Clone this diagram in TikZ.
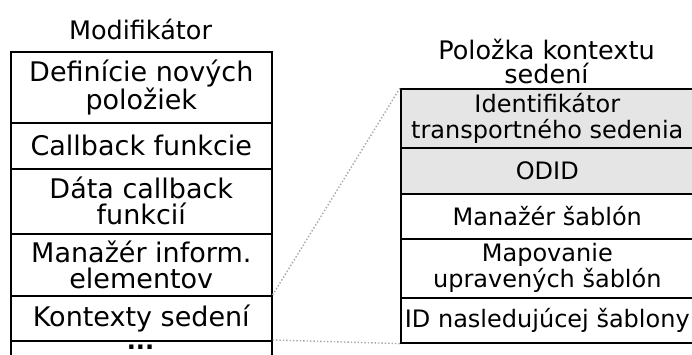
\documentclass[tikz,border=0pt]{standalone}
\usepackage{fontspec}
\setmainfont{DejaVu Sans}
\begin{document}
\begin{tikzpicture}[x=1pt,y=-1pt,
  cell/.style={draw=black,line width=1.6pt,minimum width=#1,inner sep=0pt,align=center},
  lcell/.style={cell=261pt,anchor=north west,font=\fontsize{27}{26}\selectfont},
  rcell/.style={cell=293pt,anchor=north west,font=\fontsize{24}{26}\selectfont},
  shade/.style={fill=black!10},
  title/.style={align=center,font=\fontsize{25.5}{24}\selectfont},
  link/.style={draw=black!35,line width=1.4pt,dotted}]
\useasboundingbox (0,0) rectangle (692,354);
\clip (0,0) rectangle (692,354);
% titles
\node[title] (tl) at (140.5,29) {Modifikátor};
\node[title] (tr) at (546.5,61) {Položka kontextu\\sedení};
% left box
\node[lcell,minimum height=71pt] (l1) at (10,51) {Definície nových\\položiek};
\node[lcell,minimum height=46pt] (l2) at (10,122) {Callback funkcie};
\node[lcell,minimum height=65pt] (l3) at (10,168) {Dáta callback\\funkcií};
\node[lcell,minimum height=62pt] (l4) at (10,233) {Manažér inform.\\elementov};
\node[lcell,minimum height=45pt] (l5) at (10,295) {Kontexty sedení};
\node[lcell,minimum height=40pt] (l6) at (10,340) {};
\node[font=\fontsize{24}{24}\selectfont\bfseries,anchor=base] (dots) at (140.5,349) {...};
% right box
\node[rcell,shade,minimum height=59pt] (r1) at (400,88) {Identifikátor\\transportného sedenia};
\node[rcell,shade,minimum height=46pt] (r2) at (400,147) {ODID};
\node[rcell,minimum height=45pt] (r3) at (400,193) {Manažér šablón};
\node[rcell,minimum height=59pt] (r4) at (400,238) {Mapovanie\\upravených šablón};
\node[rcell,minimum height=45pt] (r5) at (400,297) {ID nasledujúcej šablony};
% zoom links
\path[link] (l5.north east) -- (r1.north west);
\path[link] (l6.north east) -- (r5.south west);
\end{tikzpicture}
\end{document}
